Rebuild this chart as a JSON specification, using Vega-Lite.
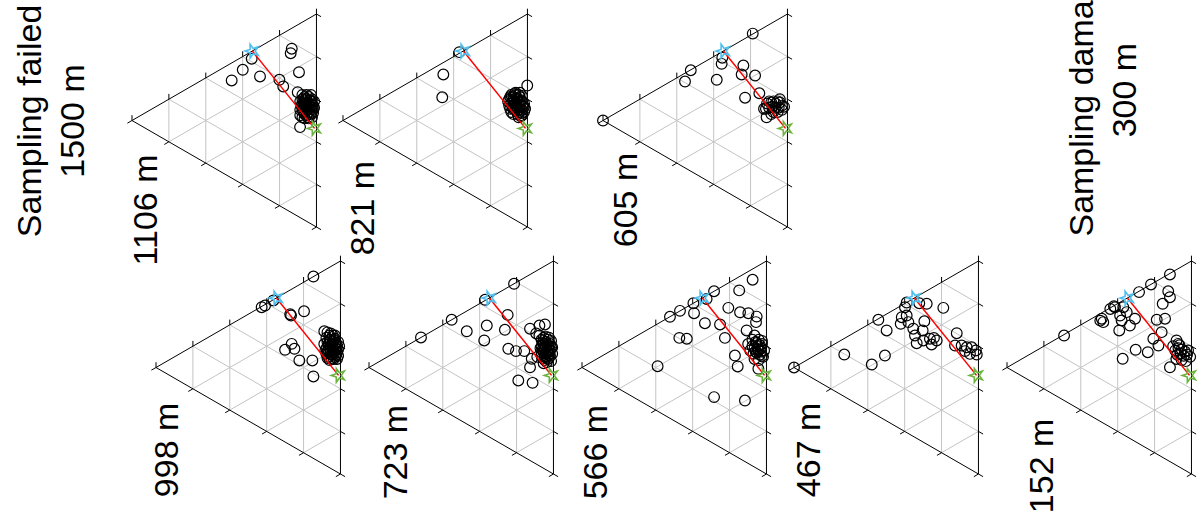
{
"$schema": "https://vega.github.io/schema/vega-lite/v6.json",
"width": 1199, "height": 512, "padding": 0,
"autosize": {"type": "fit", "contains": "padding"},
"background": "white",
"config": {"view": {"stroke": null}},
"datasets": {
"grid": [
{"x":17.32,"y":-10,"x2":17.32,"y2":10},{"x":34.64,"y":-20,"x2":34.64,"y2":20},{"x":51.96,"y":-30,"x2":51.96,"y2":30},{"x":69.28,"y":-40,"x2":69.28,"y2":40},
{"x":17.32,"y":-10,"x2":86.6,"y2":30},{"x":34.64,"y":-20,"x2":86.6,"y2":10},{"x":51.96,"y":-30,"x2":86.6,"y2":-10},{"x":69.28,"y":-40,"x2":86.6,"y2":-30},
{"x":17.32,"y":10,"x2":86.6,"y2":-30},{"x":34.64,"y":20,"x2":86.6,"y2":-10},{"x":51.96,"y":30,"x2":86.6,"y2":10},{"x":69.28,"y":40,"x2":86.6,"y2":30}
],
"frame": [
{"x":0,"y":0,"x2":86.6,"y2":50},{"x":0,"y":0,"x2":86.6,"y2":-50},{"x":86.6,"y":-50,"x2":86.6,"y2":50},
{"x":0,"y":0,"x2":0,"y2":2.5},{"x":17.32,"y":10,"x2":17.32,"y2":12.5},{"x":34.64,"y":20,"x2":34.64,"y2":22.5},{"x":51.96,"y":30,"x2":51.96,"y2":32.5},{"x":69.28,"y":40,"x2":69.28,"y2":42.5},{"x":86.6,"y":50,"x2":86.6,"y2":52.5},
{"x":0,"y":0,"x2":-2.17,"y2":-1.25},{"x":17.32,"y":-10,"x2":15.15,"y2":-11.25},{"x":34.64,"y":-20,"x2":32.47,"y2":-21.25},{"x":51.96,"y":-30,"x2":49.79,"y2":-31.25},{"x":69.28,"y":-40,"x2":67.11,"y2":-41.25},{"x":86.6,"y":-50,"x2":84.43,"y2":-51.25},
{"x":86.6,"y":-50,"x2":88.77,"y2":-51.25},{"x":86.6,"y":-30,"x2":88.77,"y2":-31.25},{"x":86.6,"y":-10,"x2":88.77,"y2":-11.25},{"x":86.6,"y":10,"x2":88.77,"y2":8.75},{"x":86.6,"y":30,"x2":88.77,"y2":28.75},{"x":86.6,"y":50,"x2":88.77,"y2":48.75}
],
"ends": [{"e":"a","x":56.5,"y":32.6},{"e":"b","x":85.7,"y":-3.7}],
"labels": [
{"p":"1106 m","t":"1106 m","x":11.7,"y":-42.0},
{"p":"1106 m","t":"Sampling failed\n1500 m","x":-42.5,"y":-0.2},
{"p":"821 m","t":"821 m","x":14.6,"y":-41.1},
{"p":"605 m","t":"605 m","x":16.0,"y":-37.3},
{"p":"605 m","t":"Sampling damaged\n300 m","x":230.0,"y":14.3},
{"p":"998 m","t":"998 m","x":10.3,"y":-38.7},
{"p":"723 m","t":"723 m","x":17.8,"y":-39.7},
{"p":"566 m","t":"566 m","x":11.7,"y":-39.7},
{"p":"467 m","t":"467 m","x":12.2,"y":-38.7},
{"p":"152 m","t":"152 m","x":21.6,"y":-46.2}
],
"pts": [
{"p":"1106 m","x":75.0,"y":33.7},{"p":"1106 m","x":74.5,"y":31.6},{"p":"1106 m","x":78.4,"y":22.7},{"p":"1106 m","x":52.0,"y":23.8},{"p":"1106 m","x":46.8,"y":18.8},{"p":"1106 m","x":60.1,"y":20.7},{"p":"1106 m","x":56.2,"y":29.0},{"p":"1106 m","x":69.2,"y":19.1},{"p":"1106 m","x":71.0,"y":16.0},{"p":"1106 m","x":77.8,"y":13.3},{"p":"1106 m","x":78.9,"y":-3.1},
{"p":"1106 m","x":80,"y":8},{"p":"1106 m","x":81,"y":9},{"p":"1106 m","x":82,"y":7},{"p":"1106 m","x":83,"y":8},{"p":"1106 m","x":84,"y":9},{"p":"1106 m","x":85,"y":7},{"p":"1106 m","x":80,"y":5},{"p":"1106 m","x":81,"y":6},{"p":"1106 m","x":82,"y":5},{"p":"1106 m","x":83,"y":4},{"p":"1106 m","x":84,"y":6},{"p":"1106 m","x":85,"y":5},{"p":"1106 m","x":82,"y":10},{"p":"1106 m","x":83,"y":11},{"p":"1106 m","x":80,"y":10},{"p":"1106 m","x":84,"y":3},{"p":"1106 m","x":81,"y":3},{"p":"1106 m","x":82.5,"y":8.5},{"p":"1106 m","x":79.5,"y":7},{"p":"1106 m","x":83.5,"y":6.5},{"p":"1106 m","x":81,"y":11},{"p":"1106 m","x":84.5,"y":10},{"p":"1106 m","x":80.5,"y":4},{"p":"1106 m","x":82,"y":2.5},{"p":"1106 m","x":85,"y":3.5},{"p":"1106 m","x":80,"y":1.5},{"p":"1106 m","x":83,"y":1},
{"p":"1106 m","x":79,"y":9},{"p":"1106 m","x":80.5,"y":7.5},{"p":"1106 m","x":81.5,"y":8},{"p":"1106 m","x":82.5,"y":6},{"p":"1106 m","x":83.5,"y":9.5},{"p":"1106 m","x":84.5,"y":7.5},{"p":"1106 m","x":85.5,"y":6},{"p":"1106 m","x":81.5,"y":4.5},{"p":"1106 m","x":83.5,"y":3},{"p":"1106 m","x":79,"y":5},{"p":"1106 m","x":80,"y":12},{"p":"1106 m","x":82,"y":12},{"p":"1106 m","x":84,"y":12},{"p":"1106 m","x":85.5,"y":9},{"p":"1106 m","x":81,"y":1},{"p":"1106 m","x":82.5,"y":1.5},{"p":"1106 m","x":84.5,"y":1.5},{"p":"1106 m","x":79,"y":2.5},{"p":"1106 m","x":81.5,"y":10},{"p":"1106 m","x":83,"y":5.5},
{"p":"821 m","x":54.6,"y":32.1},{"p":"821 m","x":47.1,"y":21.6},{"p":"821 m","x":46.6,"y":10.9},{"p":"821 m","x":86.5,"y":16.4},
{"p":"821 m","x":78,"y":10},{"p":"821 m","x":79,"y":12},{"p":"821 m","x":80,"y":11},{"p":"821 m","x":81,"y":12},{"p":"821 m","x":82,"y":10},{"p":"821 m","x":83,"y":11},{"p":"821 m","x":84,"y":9},{"p":"821 m","x":85,"y":8},{"p":"821 m","x":78,"y":7},{"p":"821 m","x":79,"y":8},{"p":"821 m","x":80,"y":7},{"p":"821 m","x":81,"y":8},{"p":"821 m","x":82,"y":6},{"p":"821 m","x":83,"y":7},{"p":"821 m","x":84,"y":5},{"p":"821 m","x":85,"y":4},{"p":"821 m","x":79,"y":4},{"p":"821 m","x":80,"y":3},{"p":"821 m","x":81,"y":5},{"p":"821 m","x":82,"y":3},{"p":"821 m","x":83,"y":4},{"p":"821 m","x":84,"y":2.5},{"p":"821 m","x":80,"y":9.5},{"p":"821 m","x":82.5,"y":8.5},{"p":"821 m","x":81,"y":13},{"p":"821 m","x":83,"y":13},{"p":"821 m","x":77.5,"y":9},{"p":"821 m","x":78.5,"y":5.5},{"p":"821 m","x":85,"y":6.5},{"p":"821 m","x":84,"y":11.5},
{"p":"821 m","x":79,"y":10.5},{"p":"821 m","x":80.5,"y":9},{"p":"821 m","x":81.5,"y":10.5},{"p":"821 m","x":82.5,"y":12},{"p":"821 m","x":83.5,"y":9.5},{"p":"821 m","x":84.5,"y":7},{"p":"821 m","x":80,"y":5.5},{"p":"821 m","x":81.5,"y":6.5},{"p":"821 m","x":83,"y":5.5},{"p":"821 m","x":84,"y":3.5},{"p":"821 m","x":79.5,"y":6.5},{"p":"821 m","x":82,"y":4.5},{"p":"821 m","x":80.5,"y":12.5},{"p":"821 m","x":85.5,"y":5.5},{"p":"821 m","x":78.5,"y":11},{"p":"821 m","x":82.5,"y":1.5},{"p":"821 m","x":83.5,"y":2},
{"p":"605 m","x":70.3,"y":40.8},{"p":"605 m","x":41.2,"y":23.6},{"p":"605 m","x":38.5,"y":18.3},{"p":"605 m","x":55.7,"y":26.6},{"p":"605 m","x":56.0,"y":29.5},{"p":"605 m","x":53.4,"y":19.1},{"p":"605 m","x":65.9,"y":25.8},{"p":"605 m","x":71.4,"y":21.1},{"p":"605 m","x":65.1,"y":21.6},{"p":"605 m","x":73.4,"y":12.8},{"p":"605 m","x":66.7,"y":10.7},{"p":"605 m","x":0,"y":0},
{"p":"605 m","x":77,"y":8},{"p":"605 m","x":78,"y":9},{"p":"605 m","x":79,"y":8.5},{"p":"605 m","x":80,"y":9},{"p":"605 m","x":81,"y":8},{"p":"605 m","x":82,"y":9},{"p":"605 m","x":83,"y":8.5},{"p":"605 m","x":78,"y":6},{"p":"605 m","x":79.5,"y":6.5},{"p":"605 m","x":81,"y":6},{"p":"605 m","x":82.5,"y":6},{"p":"605 m","x":84,"y":7},{"p":"605 m","x":80,"y":4},{"p":"605 m","x":82,"y":4},{"p":"605 m","x":84,"y":5},{"p":"605 m","x":79,"y":3},{"p":"605 m","x":83,"y":10},{"p":"605 m","x":76.5,"y":5.5},{"p":"605 m","x":85,"y":6.5},{"p":"605 m","x":76.8,"y":1.5},{"p":"605 m","x":75.6,"y":5.5},
{"p":"998 m","x":73.9,"y":42.7},{"p":"998 m","x":49.6,"y":28.3},{"p":"998 m","x":51.2,"y":29.1},{"p":"998 m","x":55.1,"y":31.5},{"p":"998 m","x":63.4,"y":24.4},{"p":"998 m","x":63.0,"y":25.0},{"p":"998 m","x":69.5,"y":26.4},{"p":"998 m","x":60.6,"y":8.3},{"p":"998 m","x":63.7,"y":11.1},{"p":"998 m","x":65.0,"y":8.8},{"p":"998 m","x":67.3,"y":3.3},{"p":"998 m","x":73.4,"y":3.3},{"p":"998 m","x":73.9,"y":-4.2},
{"p":"998 m","x":79,"y":17},{"p":"998 m","x":80.5,"y":16.5},{"p":"998 m","x":81.5,"y":15},{"p":"998 m","x":80,"y":14},{"p":"998 m","x":82,"y":13},{"p":"998 m","x":83,"y":12},{"p":"998 m","x":84,"y":11},{"p":"998 m","x":85,"y":10},{"p":"998 m","x":81,"y":11},{"p":"998 m","x":82,"y":10},{"p":"998 m","x":83,"y":9},{"p":"998 m","x":84,"y":8},{"p":"998 m","x":85,"y":7},{"p":"998 m","x":80,"y":9},{"p":"998 m","x":81,"y":8},{"p":"998 m","x":82,"y":7},{"p":"998 m","x":83,"y":6},{"p":"998 m","x":84,"y":5},{"p":"998 m","x":85,"y":4},{"p":"998 m","x":81,"y":5},{"p":"998 m","x":82.5,"y":4},{"p":"998 m","x":80,"y":6.5},{"p":"998 m","x":79,"y":11},{"p":"998 m","x":79.5,"y":8},{"p":"998 m","x":84,"y":13.5},{"p":"998 m","x":83,"y":15},{"p":"998 m","x":85.5,"y":12},{"p":"998 m","x":82,"y":8.5},{"p":"998 m","x":83.5,"y":10},{"p":"998 m","x":84.5,"y":9},
{"p":"998 m","x":80.5,"y":12},{"p":"998 m","x":81.5,"y":13},{"p":"998 m","x":82.5,"y":11},{"p":"998 m","x":83.5,"y":13},{"p":"998 m","x":84.5,"y":11.5},{"p":"998 m","x":81,"y":9.5},{"p":"998 m","x":82.5,"y":6},{"p":"998 m","x":83.5,"y":7.5},{"p":"998 m","x":80.5,"y":7.5},{"p":"998 m","x":84.5,"y":6},{"p":"998 m","x":85.5,"y":5.5},{"p":"998 m","x":81.5,"y":3.5},{"p":"998 m","x":83.5,"y":4},{"p":"998 m","x":85.5,"y":8.5},{"p":"998 m","x":82,"y":16},{"p":"998 m","x":80.5,"y":4.5},{"p":"998 m","x":84,"y":15},{"p":"998 m","x":86,"y":10},
{"p":"723 m","x":54.5,"y":31.8},{"p":"723 m","x":68.1,"y":39.3},{"p":"723 m","x":38.8,"y":22.4},{"p":"723 m","x":24.4,"y":14.1},{"p":"723 m","x":45.9,"y":17.0},{"p":"723 m","x":55.3,"y":19.7},{"p":"723 m","x":54.1,"y":12.7},{"p":"723 m","x":65.1,"y":24.7},{"p":"723 m","x":63.8,"y":17.7},{"p":"723 m","x":65.4,"y":8.8},{"p":"723 m","x":69.0,"y":7.7},{"p":"723 m","x":72.9,"y":7.7},{"p":"723 m","x":75.6,"y":18.2},{"p":"723 m","x":80.0,"y":19.7},{"p":"723 m","x":82.6,"y":20.2},{"p":"723 m","x":76.4,"y":4.1},{"p":"723 m","x":75.6,"y":0.1},{"p":"723 m","x":70.1,"y":-6.1},{"p":"723 m","x":76.8,"y":-7.2},{"p":"723 m","x":78.5,"y":16},{"p":"723 m","x":79,"y":5},
{"p":"723 m","x":81,"y":13},{"p":"723 m","x":82,"y":14},{"p":"723 m","x":83,"y":12},{"p":"723 m","x":84,"y":13},{"p":"723 m","x":85,"y":11},{"p":"723 m","x":81,"y":10},{"p":"723 m","x":82,"y":11},{"p":"723 m","x":83,"y":9.5},{"p":"723 m","x":84,"y":10},{"p":"723 m","x":85,"y":8},{"p":"723 m","x":81,"y":7},{"p":"723 m","x":82,"y":8},{"p":"723 m","x":83,"y":6.5},{"p":"723 m","x":84,"y":7},{"p":"723 m","x":85,"y":5.5},{"p":"723 m","x":81.5,"y":4.5},{"p":"723 m","x":82.5,"y":3.5},{"p":"723 m","x":84,"y":4},{"p":"723 m","x":85.5,"y":3},{"p":"723 m","x":82,"y":12.5},{"p":"723 m","x":83.5,"y":11},{"p":"723 m","x":80.5,"y":9},{"p":"723 m","x":84.5,"y":6},{"p":"723 m","x":86,"y":9.5},{"p":"723 m","x":80,"y":15},
{"p":"723 m","x":81.5,"y":11.5},{"p":"723 m","x":82.5,"y":9},{"p":"723 m","x":83.5,"y":8},{"p":"723 m","x":84.5,"y":8.5},{"p":"723 m","x":85.5,"y":9.5},{"p":"723 m","x":81.5,"y":8.5},{"p":"723 m","x":82.5,"y":5},{"p":"723 m","x":83.5,"y":5},{"p":"723 m","x":84.5,"y":4.5},{"p":"723 m","x":83,"y":14.5},{"p":"723 m","x":84.5,"y":14},{"p":"723 m","x":85.5,"y":12.5},{"p":"723 m","x":81,"y":5.5},{"p":"723 m","x":86,"y":6.5},{"p":"723 m","x":82,"y":2},{"p":"723 m","x":83.5,"y":2.5},
{"p":"566 m","x":80.1,"y":41.2},{"p":"566 m","x":73.8,"y":36.2},{"p":"566 m","x":62.0,"y":35.8},{"p":"566 m","x":58.5,"y":32.2},{"p":"566 m","x":52.3,"y":30.2},{"p":"566 m","x":46.0,"y":26.6},{"p":"566 m","x":41.3,"y":23.8},{"p":"566 m","x":52.6,"y":25.5},{"p":"566 m","x":57.7,"y":20.8},{"p":"566 m","x":64.8,"y":20.2},{"p":"566 m","x":68.7,"y":28.0},{"p":"566 m","x":74.2,"y":25.9},{"p":"566 m","x":78.1,"y":25.5},{"p":"566 m","x":82.0,"y":23.9},{"p":"566 m","x":81.7,"y":21.3},{"p":"566 m","x":77.3,"y":17.4},{"p":"566 m","x":67.1,"y":13.9},{"p":"566 m","x":45.7,"y":13.9},{"p":"566 m","x":49.2,"y":13.5},{"p":"566 m","x":35.5,"y":0.6},{"p":"566 m","x":71.8,"y":5.6},{"p":"566 m","x":73.1,"y":0.5},{"p":"566 m","x":62.0,"y":-13.9},{"p":"566 m","x":76.5,"y":-15.5},{"p":"566 m","x":82.8,"y":-0.6},
{"p":"566 m","x":80,"y":13},{"p":"566 m","x":81.5,"y":12},{"p":"566 m","x":83,"y":13},{"p":"566 m","x":84.5,"y":11},{"p":"566 m","x":80,"y":10},{"p":"566 m","x":81,"y":9},{"p":"566 m","x":82.5,"y":10},{"p":"566 m","x":84,"y":9},{"p":"566 m","x":85.5,"y":8},{"p":"566 m","x":80.5,"y":6.5},{"p":"566 m","x":82,"y":7},{"p":"566 m","x":83.5,"y":6},{"p":"566 m","x":85,"y":5},{"p":"566 m","x":81,"y":4},{"p":"566 m","x":83,"y":3.5},{"p":"566 m","x":79,"y":8},{"p":"566 m","x":78,"y":11},{"p":"566 m","x":84,"y":7.5},{"p":"566 m","x":82,"y":11.5},{"p":"566 m","x":81,"y":15},
{"p":"566 m","x":82.5,"y":8.5},{"p":"566 m","x":83.5,"y":10.5},{"p":"566 m","x":84.5,"y":12.5},{"p":"566 m","x":81.5,"y":7.5},{"p":"566 m","x":83,"y":8},{"p":"566 m","x":84.5,"y":5.5},
{"p":"467 m","x":52.9,"y":30.5},{"p":"467 m","x":52.1,"y":28.3},{"p":"467 m","x":58.8,"y":30.2},{"p":"467 m","x":62.3,"y":29.9},{"p":"467 m","x":70.1,"y":28.0},{"p":"467 m","x":39.6,"y":22.4},{"p":"467 m","x":43.5,"y":17.4},{"p":"467 m","x":50.6,"y":23.6},{"p":"467 m","x":52.9,"y":24.4},{"p":"467 m","x":50.1,"y":20.5},{"p":"467 m","x":53.7,"y":21.3},{"p":"467 m","x":61.2,"y":21.7},{"p":"467 m","x":56.0,"y":18.2},{"p":"467 m","x":60.4,"y":17.4},{"p":"467 m","x":56.8,"y":15.0},{"p":"467 m","x":57.6,"y":11.4},{"p":"467 m","x":60.7,"y":12.7},{"p":"467 m","x":63.8,"y":13.5},{"p":"467 m","x":65.7,"y":13.9},{"p":"467 m","x":67.0,"y":12.7},{"p":"467 m","x":64.6,"y":10.8},{"p":"467 m","x":76.4,"y":16.1},{"p":"467 m","x":75.6,"y":10.3},{"p":"467 m","x":78.7,"y":10.3},{"p":"467 m","x":81.1,"y":9.5},{"p":"467 m","x":83.4,"y":9.5},{"p":"467 m","x":85.4,"y":8.0},{"p":"467 m","x":82.6,"y":6.4},{"p":"467 m","x":85.8,"y":6.1},{"p":"467 m","x":80.3,"y":7.7},{"p":"467 m","x":23.6,"y":6.1},{"p":"467 m","x":36.5,"y":1.4},{"p":"467 m","x":42.7,"y":5.6},{"p":"467 m","x":0,"y":0},
{"p":"152 m","x":76.5,"y":43.7},{"p":"152 m","x":67.6,"y":39.0},{"p":"152 m","x":62.0,"y":35.4},{"p":"152 m","x":75.7,"y":35.8},{"p":"152 m","x":76.5,"y":33.0},{"p":"152 m","x":73.1,"y":29.9},{"p":"152 m","x":50.2,"y":28.8},{"p":"152 m","x":50.7,"y":28.3},{"p":"152 m","x":48.5,"y":27.5},{"p":"152 m","x":54.6,"y":28.3},{"p":"152 m","x":56.2,"y":26.0},{"p":"152 m","x":53.1,"y":24.4},{"p":"152 m","x":60.1,"y":22.9},{"p":"152 m","x":57.7,"y":19.7},{"p":"152 m","x":53.8,"y":22.1},{"p":"152 m","x":44.5,"y":22.9},{"p":"152 m","x":45.2,"y":21.3},{"p":"152 m","x":43.8,"y":22.0},{"p":"152 m","x":52.7,"y":17.4},{"p":"152 m","x":26.8,"y":15.0},{"p":"152 m","x":70.3,"y":22.4},{"p":"152 m","x":74.2,"y":22.9},{"p":"152 m","x":72.6,"y":16.6},{"p":"152 m","x":68.7,"y":13.5},{"p":"152 m","x":71.1,"y":10.3},{"p":"152 m","x":60.4,"y":8.3},{"p":"152 m","x":66.1,"y":7.2},{"p":"152 m","x":54.3,"y":4.1},{"p":"152 m","x":76.5,"y":0.1},{"p":"152 m","x":79.6,"y":12.7},{"p":"152 m","x":80.4,"y":11.1},
{"p":"152 m","x":79,"y":8},{"p":"152 m","x":80.5,"y":9},{"p":"152 m","x":82,"y":8.5},{"p":"152 m","x":83.5,"y":7.5},{"p":"152 m","x":85,"y":8},{"p":"152 m","x":80,"y":6},{"p":"152 m","x":81.5,"y":6.5},{"p":"152 m","x":83,"y":5.5},{"p":"152 m","x":84.5,"y":6},{"p":"152 m","x":79.5,"y":4},{"p":"152 m","x":82,"y":3.5},{"p":"152 m","x":84,"y":3},{"p":"152 m","x":78,"y":10},{"p":"152 m","x":81,"y":10.5},{"p":"152 m","x":86,"y":5}
]
},
"resolve": {"scale": {"x": "independent", "y": "independent"}},
"layer": [
{
"encoding": {"x": {"field":"x","type":"quantitative","scale":{"domain":[-61.97,500.94],"nice":false,"zero":false},"axis":null},"y": {"field":"y","type":"quantitative","scale":{"domain":[-183.8,56.58],"nice":false,"zero":false},"axis":null}},
"layer": [
{"data":{"name":"grid"},"mark":{"type":"rule","color":"#c4c4c4","strokeWidth":1,"clip":true},"encoding":{"x2":{"field":"x2"},"y2":{"field":"y2"}}},
{"data":{"name":"frame"},"mark":{"type":"rule","color":"#000000","strokeWidth":1,"clip":true},"encoding":{"x2":{"field":"x2"},"y2":{"field":"y2"}}},
{"data":{"name":"pts"},"transform":[{"filter":"datum.p === '1106 m'"}],"mark":{"type":"point","shape":"circle","filled":false,"color":"#000000","size":115,"strokeWidth":1.2,"opacity":1,"clip":true},"encoding":{}},
{"data":{"name":"ends"},"mark":{"type":"line","color":"#ff0000","strokeWidth":1.5,"clip":true},"encoding":{}},
{"data":{"name":"ends"},"transform":[{"filter":"datum.e === 'a'"}],"mark":{"type":"point","shape":"M-1,0L-0.309,0.225L-0.309,0.951L0.118,0.363L0.809,0.588L0.382,0L0.809,-0.588L0.118,-0.363L-0.309,-0.951L-0.309,-0.225Z","filled":false,"color":"#4DBEEE","size":210,"strokeWidth":1.6,"opacity":1,"clip":true},"encoding":{}},
{"data":{"name":"ends"},"transform":[{"filter":"datum.e === 'b'"}],"mark":{"type":"point","shape":"M-1,0L-0.309,0.225L-0.309,0.951L0.118,0.363L0.809,0.588L0.382,0L0.809,-0.588L0.118,-0.363L-0.309,-0.951L-0.309,-0.225Z","filled":false,"color":"#6DB33F","size":210,"strokeWidth":1.6,"opacity":1,"clip":true},"encoding":{}},
{"data":{"name":"labels"},"transform":[{"filter":"datum.p === '1106 m'"}],"mark":{"type":"text","font":"Liberation Sans","fontSize":34,"angle":270,"align":"center","baseline":"alphabetic","lineBreak":"\n","lineHeight":43,"color":"#000000"},"encoding":{"text":{"field":"t","type":"nominal"}}}
]
},
{
"encoding": {"x": {"field":"x","type":"quantitative","scale":{"domain":[-161.03,401.88],"nice":false,"zero":false},"axis":null},"y": {"field":"y","type":"quantitative","scale":{"domain":[-183.8,56.58],"nice":false,"zero":false},"axis":null}},
"layer": [
{"data":{"name":"grid"},"mark":{"type":"rule","color":"#c4c4c4","strokeWidth":1,"clip":true},"encoding":{"x2":{"field":"x2"},"y2":{"field":"y2"}}},
{"data":{"name":"frame"},"mark":{"type":"rule","color":"#000000","strokeWidth":1,"clip":true},"encoding":{"x2":{"field":"x2"},"y2":{"field":"y2"}}},
{"data":{"name":"pts"},"transform":[{"filter":"datum.p === '821 m'"}],"mark":{"type":"point","shape":"circle","filled":false,"color":"#000000","size":115,"strokeWidth":1.2,"opacity":1,"clip":true},"encoding":{}},
{"data":{"name":"ends"},"mark":{"type":"line","color":"#ff0000","strokeWidth":1.5,"clip":true},"encoding":{}},
{"data":{"name":"ends"},"transform":[{"filter":"datum.e === 'a'"}],"mark":{"type":"point","shape":"M-1,0L-0.309,0.225L-0.309,0.951L0.118,0.363L0.809,0.588L0.382,0L0.809,-0.588L0.118,-0.363L-0.309,-0.951L-0.309,-0.225Z","filled":false,"color":"#4DBEEE","size":210,"strokeWidth":1.6,"opacity":1,"clip":true},"encoding":{}},
{"data":{"name":"ends"},"transform":[{"filter":"datum.e === 'b'"}],"mark":{"type":"point","shape":"M-1,0L-0.309,0.225L-0.309,0.951L0.118,0.363L0.809,0.588L0.382,0L0.809,-0.588L0.118,-0.363L-0.309,-0.951L-0.309,-0.225Z","filled":false,"color":"#6DB33F","size":210,"strokeWidth":1.6,"opacity":1,"clip":true},"encoding":{}},
{"data":{"name":"labels"},"transform":[{"filter":"datum.p === '821 m'"}],"mark":{"type":"text","font":"Liberation Sans","fontSize":34,"angle":270,"align":"center","baseline":"alphabetic","lineBreak":"\n","lineHeight":43,"color":"#000000"},"encoding":{"text":{"field":"t","type":"nominal"}}}
]
},
{
"encoding": {"x": {"field":"x","type":"quantitative","scale":{"domain":[-283.1,279.81],"nice":false,"zero":false},"axis":null},"y": {"field":"y","type":"quantitative","scale":{"domain":[-183.8,56.58],"nice":false,"zero":false},"axis":null}},
"layer": [
{"data":{"name":"grid"},"mark":{"type":"rule","color":"#c4c4c4","strokeWidth":1,"clip":true},"encoding":{"x2":{"field":"x2"},"y2":{"field":"y2"}}},
{"data":{"name":"frame"},"mark":{"type":"rule","color":"#000000","strokeWidth":1,"clip":true},"encoding":{"x2":{"field":"x2"},"y2":{"field":"y2"}}},
{"data":{"name":"pts"},"transform":[{"filter":"datum.p === '605 m'"}],"mark":{"type":"point","shape":"circle","filled":false,"color":"#000000","size":115,"strokeWidth":1.2,"opacity":1,"clip":true},"encoding":{}},
{"data":{"name":"ends"},"mark":{"type":"line","color":"#ff0000","strokeWidth":1.5,"clip":true},"encoding":{}},
{"data":{"name":"ends"},"transform":[{"filter":"datum.e === 'a'"}],"mark":{"type":"point","shape":"M-1,0L-0.309,0.225L-0.309,0.951L0.118,0.363L0.809,0.588L0.382,0L0.809,-0.588L0.118,-0.363L-0.309,-0.951L-0.309,-0.225Z","filled":false,"color":"#4DBEEE","size":210,"strokeWidth":1.6,"opacity":1,"clip":true},"encoding":{}},
{"data":{"name":"ends"},"transform":[{"filter":"datum.e === 'b'"}],"mark":{"type":"point","shape":"M-1,0L-0.309,0.225L-0.309,0.951L0.118,0.363L0.809,0.588L0.382,0L0.809,-0.588L0.118,-0.363L-0.309,-0.951L-0.309,-0.225Z","filled":false,"color":"#6DB33F","size":210,"strokeWidth":1.6,"opacity":1,"clip":true},"encoding":{}},
{"data":{"name":"labels"},"transform":[{"filter":"datum.p === '605 m'"}],"mark":{"type":"text","font":"Liberation Sans","fontSize":34,"angle":270,"align":"center","baseline":"alphabetic","lineBreak":"\n","lineHeight":43,"color":"#000000","clip":true},"encoding":{"text":{"field":"t","type":"nominal"}}}
]
},
{
"encoding": {"x": {"field":"x","type":"quantitative","scale":{"domain":[-73.24,489.67],"nice":false,"zero":false},"axis":null},"y": {"field":"y","type":"quantitative","scale":{"domain":[-67.84,172.54],"nice":false,"zero":false},"axis":null}},
"layer": [
{"data":{"name":"grid"},"mark":{"type":"rule","color":"#c4c4c4","strokeWidth":1,"clip":true},"encoding":{"x2":{"field":"x2"},"y2":{"field":"y2"}}},
{"data":{"name":"frame"},"mark":{"type":"rule","color":"#000000","strokeWidth":1,"clip":true},"encoding":{"x2":{"field":"x2"},"y2":{"field":"y2"}}},
{"data":{"name":"pts"},"transform":[{"filter":"datum.p === '998 m'"}],"mark":{"type":"point","shape":"circle","filled":false,"color":"#000000","size":115,"strokeWidth":1.2,"opacity":1,"clip":true},"encoding":{}},
{"data":{"name":"ends"},"mark":{"type":"line","color":"#ff0000","strokeWidth":1.5,"clip":true},"encoding":{}},
{"data":{"name":"ends"},"transform":[{"filter":"datum.e === 'a'"}],"mark":{"type":"point","shape":"M-1,0L-0.309,0.225L-0.309,0.951L0.118,0.363L0.809,0.588L0.382,0L0.809,-0.588L0.118,-0.363L-0.309,-0.951L-0.309,-0.225Z","filled":false,"color":"#4DBEEE","size":210,"strokeWidth":1.6,"opacity":1,"clip":true},"encoding":{}},
{"data":{"name":"ends"},"transform":[{"filter":"datum.e === 'b'"}],"mark":{"type":"point","shape":"M-1,0L-0.309,0.225L-0.309,0.951L0.118,0.363L0.809,0.588L0.382,0L0.809,-0.588L0.118,-0.363L-0.309,-0.951L-0.309,-0.225Z","filled":false,"color":"#6DB33F","size":210,"strokeWidth":1.6,"opacity":1,"clip":true},"encoding":{}},
{"data":{"name":"labels"},"transform":[{"filter":"datum.p === '998 m'"}],"mark":{"type":"text","font":"Liberation Sans","fontSize":34,"angle":270,"align":"center","baseline":"alphabetic","lineBreak":"\n","lineHeight":43,"color":"#000000"},"encoding":{"text":{"field":"t","type":"nominal"}}}
]
},
{
"encoding": {"x": {"field":"x","type":"quantitative","scale":{"domain":[-173.24,389.67],"nice":false,"zero":false},"axis":null},"y": {"field":"y","type":"quantitative","scale":{"domain":[-67.84,172.54],"nice":false,"zero":false},"axis":null}},
"layer": [
{"data":{"name":"grid"},"mark":{"type":"rule","color":"#c4c4c4","strokeWidth":1,"clip":true},"encoding":{"x2":{"field":"x2"},"y2":{"field":"y2"}}},
{"data":{"name":"frame"},"mark":{"type":"rule","color":"#000000","strokeWidth":1,"clip":true},"encoding":{"x2":{"field":"x2"},"y2":{"field":"y2"}}},
{"data":{"name":"pts"},"transform":[{"filter":"datum.p === '723 m'"}],"mark":{"type":"point","shape":"circle","filled":false,"color":"#000000","size":115,"strokeWidth":1.2,"opacity":1,"clip":true},"encoding":{}},
{"data":{"name":"ends"},"mark":{"type":"line","color":"#ff0000","strokeWidth":1.5,"clip":true},"encoding":{}},
{"data":{"name":"ends"},"transform":[{"filter":"datum.e === 'a'"}],"mark":{"type":"point","shape":"M-1,0L-0.309,0.225L-0.309,0.951L0.118,0.363L0.809,0.588L0.382,0L0.809,-0.588L0.118,-0.363L-0.309,-0.951L-0.309,-0.225Z","filled":false,"color":"#4DBEEE","size":210,"strokeWidth":1.6,"opacity":1,"clip":true},"encoding":{}},
{"data":{"name":"ends"},"transform":[{"filter":"datum.e === 'b'"}],"mark":{"type":"point","shape":"M-1,0L-0.309,0.225L-0.309,0.951L0.118,0.363L0.809,0.588L0.382,0L0.809,-0.588L0.118,-0.363L-0.309,-0.951L-0.309,-0.225Z","filled":false,"color":"#6DB33F","size":210,"strokeWidth":1.6,"opacity":1,"clip":true},"encoding":{}},
{"data":{"name":"labels"},"transform":[{"filter":"datum.p === '723 m'"}],"mark":{"type":"text","font":"Liberation Sans","fontSize":34,"angle":270,"align":"center","baseline":"alphabetic","lineBreak":"\n","lineHeight":43,"color":"#000000"},"encoding":{"text":{"field":"t","type":"nominal"}}}
]
},
{
"encoding": {"x": {"field":"x","type":"quantitative","scale":{"domain":[-273.24,289.67],"nice":false,"zero":false},"axis":null},"y": {"field":"y","type":"quantitative","scale":{"domain":[-67.84,172.54],"nice":false,"zero":false},"axis":null}},
"layer": [
{"data":{"name":"grid"},"mark":{"type":"rule","color":"#c4c4c4","strokeWidth":1,"clip":true},"encoding":{"x2":{"field":"x2"},"y2":{"field":"y2"}}},
{"data":{"name":"frame"},"mark":{"type":"rule","color":"#000000","strokeWidth":1,"clip":true},"encoding":{"x2":{"field":"x2"},"y2":{"field":"y2"}}},
{"data":{"name":"pts"},"transform":[{"filter":"datum.p === '566 m'"}],"mark":{"type":"point","shape":"circle","filled":false,"color":"#000000","size":115,"strokeWidth":1.2,"opacity":1,"clip":true},"encoding":{}},
{"data":{"name":"ends"},"mark":{"type":"line","color":"#ff0000","strokeWidth":1.5,"clip":true},"encoding":{}},
{"data":{"name":"ends"},"transform":[{"filter":"datum.e === 'a'"}],"mark":{"type":"point","shape":"M-1,0L-0.309,0.225L-0.309,0.951L0.118,0.363L0.809,0.588L0.382,0L0.809,-0.588L0.118,-0.363L-0.309,-0.951L-0.309,-0.225Z","filled":false,"color":"#4DBEEE","size":210,"strokeWidth":1.6,"opacity":1,"clip":true},"encoding":{}},
{"data":{"name":"ends"},"transform":[{"filter":"datum.e === 'b'"}],"mark":{"type":"point","shape":"M-1,0L-0.309,0.225L-0.309,0.951L0.118,0.363L0.809,0.588L0.382,0L0.809,-0.588L0.118,-0.363L-0.309,-0.951L-0.309,-0.225Z","filled":false,"color":"#6DB33F","size":210,"strokeWidth":1.6,"opacity":1,"clip":true},"encoding":{}},
{"data":{"name":"labels"},"transform":[{"filter":"datum.p === '566 m'"}],"mark":{"type":"text","font":"Liberation Sans","fontSize":34,"angle":270,"align":"center","baseline":"alphabetic","lineBreak":"\n","lineHeight":43,"color":"#000000"},"encoding":{"text":{"field":"t","type":"nominal"}}}
]
},
{
"encoding": {"x": {"field":"x","type":"quantitative","scale":{"domain":[-372.77,190.14],"nice":false,"zero":false},"axis":null},"y": {"field":"y","type":"quantitative","scale":{"domain":[-67.84,172.54],"nice":false,"zero":false},"axis":null}},
"layer": [
{"data":{"name":"grid"},"mark":{"type":"rule","color":"#c4c4c4","strokeWidth":1,"clip":true},"encoding":{"x2":{"field":"x2"},"y2":{"field":"y2"}}},
{"data":{"name":"frame"},"mark":{"type":"rule","color":"#000000","strokeWidth":1,"clip":true},"encoding":{"x2":{"field":"x2"},"y2":{"field":"y2"}}},
{"data":{"name":"pts"},"transform":[{"filter":"datum.p === '467 m'"}],"mark":{"type":"point","shape":"circle","filled":false,"color":"#000000","size":115,"strokeWidth":1.2,"opacity":1,"clip":true},"encoding":{}},
{"data":{"name":"ends"},"mark":{"type":"line","color":"#ff0000","strokeWidth":1.5,"clip":true},"encoding":{}},
{"data":{"name":"ends"},"transform":[{"filter":"datum.e === 'a'"}],"mark":{"type":"point","shape":"M-1,0L-0.309,0.225L-0.309,0.951L0.118,0.363L0.809,0.588L0.382,0L0.809,-0.588L0.118,-0.363L-0.309,-0.951L-0.309,-0.225Z","filled":false,"color":"#4DBEEE","size":210,"strokeWidth":1.6,"opacity":1,"clip":true},"encoding":{}},
{"data":{"name":"ends"},"transform":[{"filter":"datum.e === 'b'"}],"mark":{"type":"point","shape":"M-1,0L-0.309,0.225L-0.309,0.951L0.118,0.363L0.809,0.588L0.382,0L0.809,-0.588L0.118,-0.363L-0.309,-0.951L-0.309,-0.225Z","filled":false,"color":"#6DB33F","size":210,"strokeWidth":1.6,"opacity":1,"clip":true},"encoding":{}},
{"data":{"name":"labels"},"transform":[{"filter":"datum.p === '467 m'"}],"mark":{"type":"text","font":"Liberation Sans","fontSize":34,"angle":270,"align":"center","baseline":"alphabetic","lineBreak":"\n","lineHeight":43,"color":"#000000"},"encoding":{"text":{"field":"t","type":"nominal"}}}
]
},
{
"encoding": {"x": {"field":"x","type":"quantitative","scale":{"domain":[-472.77,90.14],"nice":false,"zero":false},"axis":null},"y": {"field":"y","type":"quantitative","scale":{"domain":[-67.84,172.54],"nice":false,"zero":false},"axis":null}},
"layer": [
{"data":{"name":"grid"},"mark":{"type":"rule","color":"#c4c4c4","strokeWidth":1,"clip":true},"encoding":{"x2":{"field":"x2"},"y2":{"field":"y2"}}},
{"data":{"name":"frame"},"mark":{"type":"rule","color":"#000000","strokeWidth":1,"clip":true},"encoding":{"x2":{"field":"x2"},"y2":{"field":"y2"}}},
{"data":{"name":"pts"},"transform":[{"filter":"datum.p === '152 m'"}],"mark":{"type":"point","shape":"circle","filled":false,"color":"#000000","size":115,"strokeWidth":1.2,"opacity":1,"clip":true},"encoding":{}},
{"data":{"name":"ends"},"mark":{"type":"line","color":"#ff0000","strokeWidth":1.5,"clip":true},"encoding":{}},
{"data":{"name":"ends"},"transform":[{"filter":"datum.e === 'a'"}],"mark":{"type":"point","shape":"M-1,0L-0.309,0.225L-0.309,0.951L0.118,0.363L0.809,0.588L0.382,0L0.809,-0.588L0.118,-0.363L-0.309,-0.951L-0.309,-0.225Z","filled":false,"color":"#4DBEEE","size":210,"strokeWidth":1.6,"opacity":1,"clip":true},"encoding":{}},
{"data":{"name":"ends"},"transform":[{"filter":"datum.e === 'b'"}],"mark":{"type":"point","shape":"M-1,0L-0.309,0.225L-0.309,0.951L0.118,0.363L0.809,0.588L0.382,0L0.809,-0.588L0.118,-0.363L-0.309,-0.951L-0.309,-0.225Z","filled":false,"color":"#6DB33F","size":210,"strokeWidth":1.6,"opacity":1,"clip":true},"encoding":{}},
{"data":{"name":"labels"},"transform":[{"filter":"datum.p === '152 m'"}],"mark":{"type":"text","font":"Liberation Sans","fontSize":34,"angle":270,"align":"center","baseline":"alphabetic","lineBreak":"\n","lineHeight":43,"color":"#000000","clip":true},"encoding":{"text":{"field":"t","type":"nominal"}}}
]
}
]
}
